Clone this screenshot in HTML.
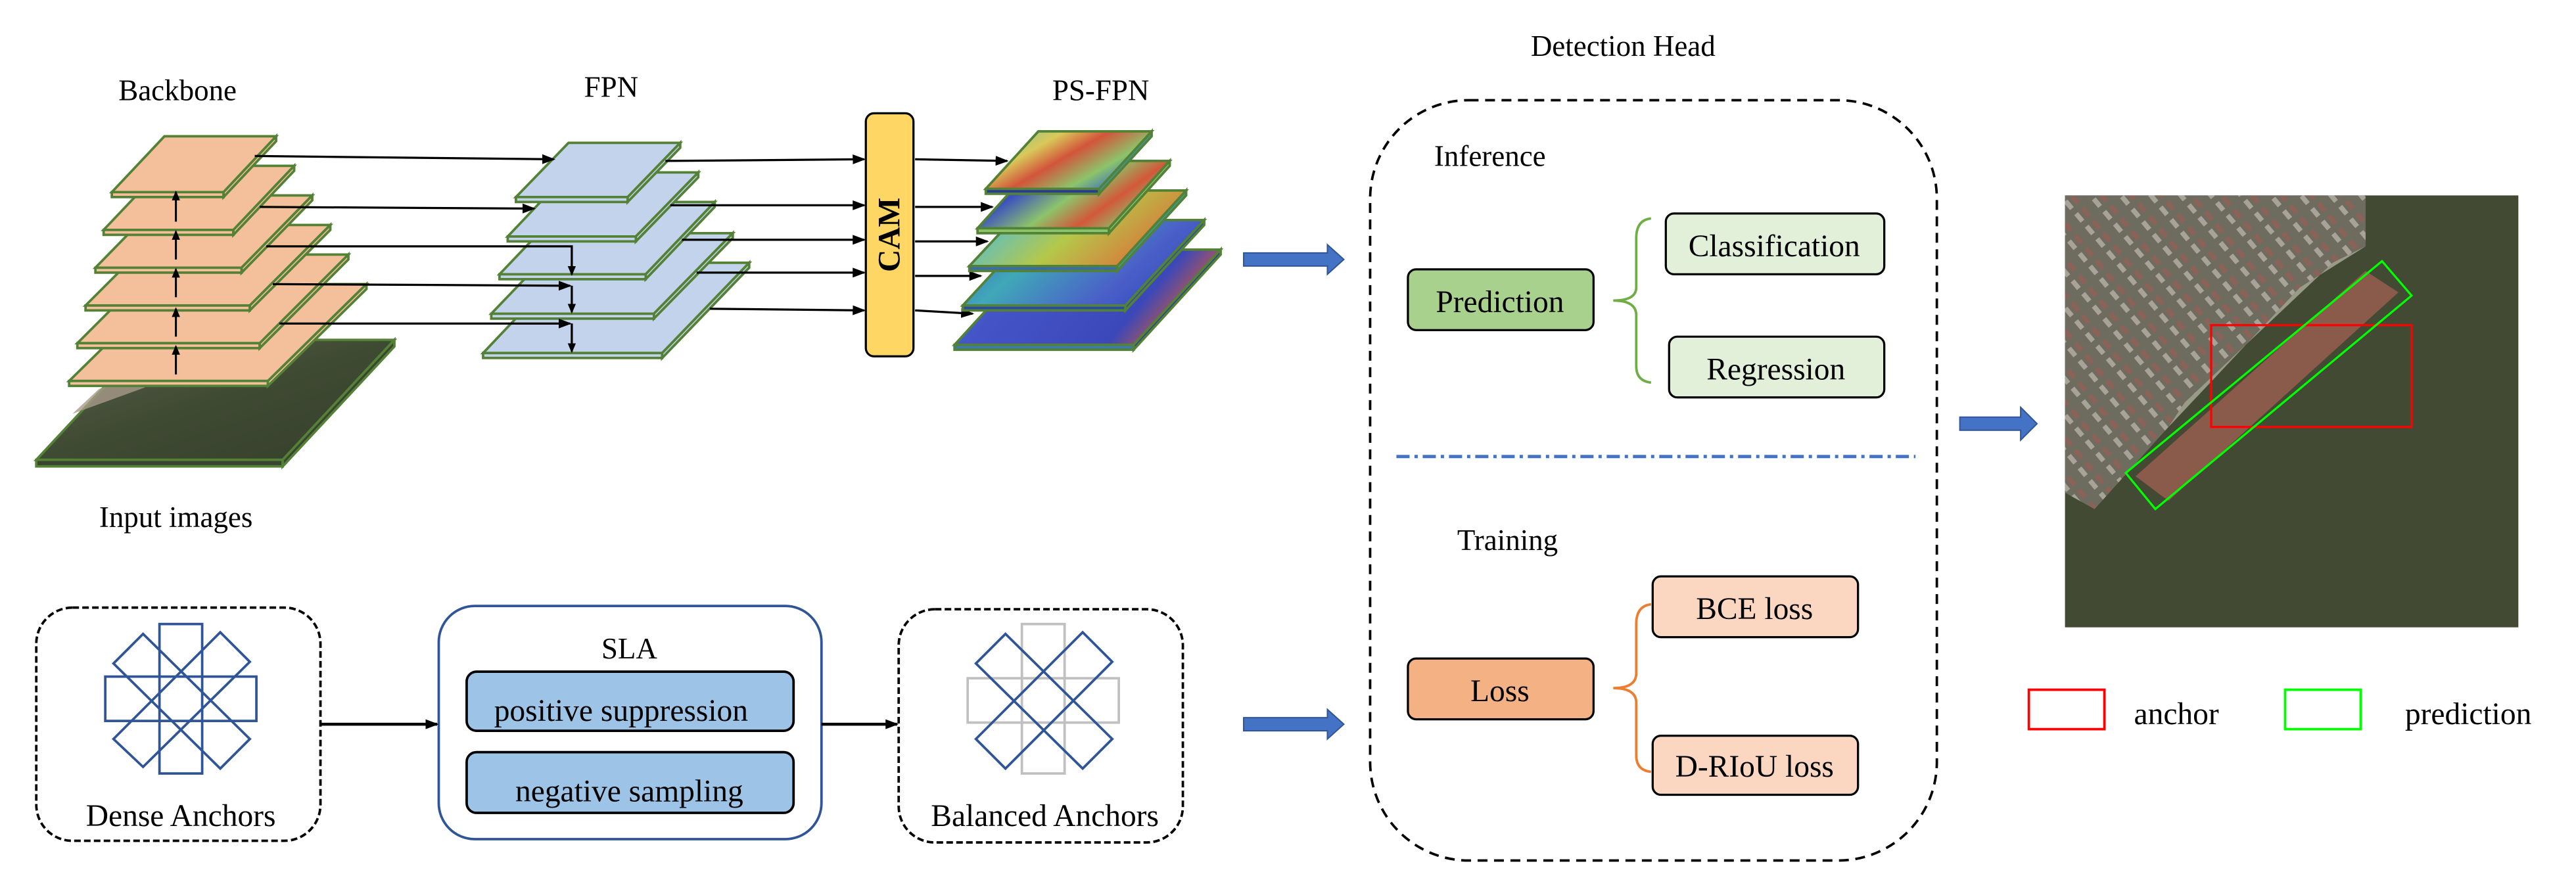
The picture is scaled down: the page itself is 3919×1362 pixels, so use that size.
<!DOCTYPE html>
<html><head><meta charset="utf-8"><style>html,body{margin:0;padding:0;background:#fff}svg{display:block}text{font-family:"Liberation Serif",serif}</style></head><body>
<svg xmlns="http://www.w3.org/2000/svg" width="3919" height="1362" viewBox="0 0 1568 545" style="font-family:'Liberation Serif',serif">
<defs>
<marker id="ah" markerWidth="8" markerHeight="8" refX="7" refY="4" orient="auto" markerUnits="userSpaceOnUse"><path d="M0,1 L8,4 L0,7 z" fill="#000"/></marker>
<marker id="ahs" markerWidth="6" markerHeight="6" refX="5" refY="3" orient="auto" markerUnits="userSpaceOnUse"><path d="M0,0.5 L6,3 L0,5.5 z" fill="#000"/></marker>
<linearGradient id="h0" x1="0" y1="0" x2="1" y2="0.6"><stop offset="0" stop-color="#6fc4a8"/><stop offset="0.35" stop-color="#d9c85a"/><stop offset="0.55" stop-color="#d2553a"/><stop offset="0.8" stop-color="#8cc46a"/><stop offset="1" stop-color="#3a6fc8"/></linearGradient>
<linearGradient id="h1" x1="0" y1="0" x2="1" y2="0.5"><stop offset="0" stop-color="#9ad8c8"/><stop offset="0.35" stop-color="#3a4fc0"/><stop offset="0.6" stop-color="#8cc46a"/><stop offset="0.8" stop-color="#d2583a"/><stop offset="1" stop-color="#8cc46a"/></linearGradient>
<linearGradient id="h2" x1="0" y1="0" x2="1" y2="0.4"><stop offset="0" stop-color="#3a4fc0"/><stop offset="0.3" stop-color="#6cc0b0"/><stop offset="0.6" stop-color="#b4c84a"/><stop offset="1" stop-color="#d87a3a"/></linearGradient>
<linearGradient id="h3" x1="0" y1="0" x2="1" y2="0.4"><stop offset="0" stop-color="#4050c8"/><stop offset="0.4" stop-color="#40a8b8"/><stop offset="0.8" stop-color="#4a60c8"/><stop offset="1" stop-color="#3a4fc0"/></linearGradient>
<linearGradient id="h4" x1="0" y1="0" x2="1" y2="0.3"><stop offset="0" stop-color="#40b0a8"/><stop offset="0.3" stop-color="#4455c8"/><stop offset="0.8" stop-color="#3c48b8"/><stop offset="1" stop-color="#d05a3a"/></linearGradient>
<linearGradient id="sea" x1="0" y1="0" x2="1" y2="1"><stop offset="0" stop-color="#5b5f4c"/><stop offset="0.5" stop-color="#3f4a33"/><stop offset="1" stop-color="#353f2b"/></linearGradient>
<pattern id="cont" width="14" height="10" patternUnits="userSpaceOnUse" patternTransform="rotate(-40)"><rect width="14" height="10" fill="#6e6c5e"/><rect x="1" y="2" width="3" height="6" fill="#a8a298"/><rect x="6" y="2" width="3" height="6" fill="#8a6258"/></pattern>
</defs>

<g font-size="18" fill="#000" text-anchor="middle">
<text x="108" y="61">Backbone</text>
<text x="372" y="59">FPN</text>
<text x="670" y="61">PS-FPN</text>
<text x="988" y="34">Detection Head</text>
<text x="107" y="321">Input images</text>
</g>

<g stroke="#538135" stroke-width="1.5">
<polygon points="90,207 240,207 172,280 22,280" fill="url(#sea)"/>
<polygon points="22,280 172,280 172,284 22,284" fill="#3a4430"/>
<polygon points="172,280 240,207 240,211 172,284" fill="#3a4430"/>
</g>
<polygon points="60,237 96,222 88,236 44,252" fill="#a89a8a" opacity="0.8"/>

<g stroke="#538135" stroke-width="1.5" fill="#f4c09b">
<polygon points="102,173 223,173 163,232 42,232"/><polygon points="42,232 163,232 163,235 42,235"/><polygon points="163,232 223,173 223,176 163,235"/>
<polygon points="101,155 212,155 158,209 47,209"/><polygon points="47,209 158,209 158,212 47,212"/><polygon points="158,209 212,155 212,158 158,212"/>
<polygon points="101,137 201,137 152,186 52,186"/><polygon points="52,186 152,186 152,189 52,189"/><polygon points="152,186 201,137 201,140 152,189"/>
<polygon points="101,119 190,119 147,163 58,163"/><polygon points="58,163 147,163 147,166 58,166"/><polygon points="147,163 190,119 190,122 147,166"/>
<polygon points="100,101 179,101 142,140 63,140"/><polygon points="63,140 142,140 142,143 63,143"/><polygon points="142,140 179,101 179,104 142,143"/>
<polygon points="100,83 168,83 136,117 68,117"/><polygon points="68,117 136,117 136,120 68,120"/><polygon points="136,117 168,83 168,86 136,120"/>
</g>
<g stroke="#000" stroke-width="1.2" marker-end="url(#ahs)">
<line x1="107" y1="228" x2="107" y2="211"/>
<line x1="107" y1="205" x2="107" y2="188"/>
<line x1="107" y1="181" x2="107" y2="164"/>
<line x1="107" y1="158" x2="107" y2="141"/>
<line x1="107" y1="135" x2="107" y2="117"/>
</g>

<g stroke="#538135" stroke-width="1.5" fill="#c3d3ec">
<polygon points="346,160 456,160 403,215 294,215"/><polygon points="294,215 403,215 403,218 294,218"/><polygon points="403,215 456,160 456,163 403,218"/>
<polygon points="346,142 446,142 398,191 299,191"/><polygon points="299,191 398,191 398,194 299,194"/><polygon points="398,191 446,142 446,145 398,194"/>
<polygon points="346,123 435,123 393,167 304,167"/><polygon points="304,167 393,167 393,170 304,170"/><polygon points="393,167 435,123 435,126 393,170"/>
<polygon points="346,105 425,105 387,144 309,144"/><polygon points="309,144 387,144 387,147 309,147"/><polygon points="387,144 425,105 425,108 387,147"/>
<polygon points="346,87 414,87 382,120 314,120"/><polygon points="314,120 382,120 382,123 314,123"/><polygon points="382,120 414,87 414,90 382,123"/>
</g>

<g stroke="#000" stroke-width="1.3" fill="none">
<line x1="155" y1="95" x2="337" y2="97" marker-end="url(#ah)"/>
<line x1="158" y1="126" x2="325" y2="127" marker-end="url(#ah)"/>
<polyline points="162,150 348,150 348,167" marker-end="url(#ahs)"/>
<line x1="166" y1="173" x2="347" y2="174" marker-end="url(#ah)"/>
<line x1="170" y1="197" x2="347" y2="197" marker-end="url(#ah)"/>
<line x1="348" y1="174" x2="348" y2="190" marker-end="url(#ahs)"/>
<line x1="348" y1="197" x2="348" y2="214" marker-end="url(#ahs)"/>
</g>

<g stroke="#000" stroke-width="1.3" marker-end="url(#ah)">
<line x1="405" y1="98" x2="526" y2="97"/>
<line x1="408" y1="125" x2="526" y2="125"/>
<line x1="415" y1="146" x2="526" y2="146"/>
<line x1="424" y1="166" x2="526" y2="166"/>
<line x1="432" y1="188" x2="526" y2="189"/>
</g>

<rect x="527" y="69" width="29" height="148" rx="5" fill="#fdd663" stroke="#000" stroke-width="1.3"/>
<text x="541.5" y="143" font-size="19" font-weight="bold" text-anchor="middle" transform="rotate(-90 541.5 143)" dy="6">CAM</text>

<g stroke="#000" stroke-width="1.3" marker-end="url(#ah)">
<line x1="557" y1="97" x2="613" y2="98"/>
<line x1="557" y1="126" x2="604" y2="126"/>
<line x1="557" y1="147" x2="601" y2="147"/>
<line x1="557" y1="168" x2="597" y2="168"/>
<line x1="557" y1="189" x2="592" y2="191"/>
</g>

<g stroke="#538135" stroke-width="1.5">
<polygon points="634,152 743,152 690,210 581,210" fill="url(#h4)"/><polygon points="581,210 690,210 690,213 581,213" fill="#3c7ab0"/><polygon points="690,210 743,152 743,155 690,213" fill="#2a3a9a"/>
<polygon points="634,134 733,134 685,186 586,186" fill="url(#h3)"/><polygon points="586,186 685,186 685,189 586,189" fill="#2a4aa8"/><polygon points="685,186 733,134 733,137 685,189" fill="#2a4aa8"/>
<polygon points="633,116 722,116 680,162 590,162" fill="url(#h2)"/><polygon points="590,162 680,162 680,165 590,165" fill="#3a6ab0"/><polygon points="680,162 722,116 722,119 680,165" fill="#3aa0a8"/>
<polygon points="632,98 712,98 675,139 595,139" fill="url(#h1)"/><polygon points="595,139 675,139 675,142 595,142" fill="#8cc46a"/><polygon points="675,139 712,98 712,101 675,142" fill="#8cc46a"/>
<polygon points="632,80 701,80 669,115 600,115" fill="url(#h0)"/><polygon points="600,115 669,115 669,118 600,118" fill="#2a3a9a"/><polygon points="669,115 701,80 701,83 669,118" fill="#3a9ab0"/>
</g>

<g fill="#4472c4" stroke="#2f5597" stroke-width="0.8">
<polygon points="757,154 808,154 808,149 818,158 808,167 808,162 757,162"/>
<polygon points="757,437 808,437 808,432 818,441 808,450 808,445 757,445"/>
<polygon points="1193,254 1230,254 1230,248 1240,258 1230,268 1230,262 1193,262"/>
</g>

<rect x="834" y="61" width="345" height="463" rx="60" fill="none" stroke="#000" stroke-width="1.5" stroke-dasharray="6,4"/>
<text x="873" y="101" font-size="18">Inference</text>
<text x="887" y="335" font-size="18">Training</text>
<line x1="850" y1="278" x2="1166" y2="278" stroke="#4472c4" stroke-width="2" stroke-dasharray="8,3,2,3"/>
<g stroke="#000" stroke-width="1.3">
<rect x="857" y="164" width="113" height="37" rx="5" fill="#a9d18e"/>
<rect x="1014" y="130" width="133" height="37" rx="5" fill="#e2efd9"/>
<rect x="1016" y="205" width="131" height="37" rx="5" fill="#e2efd9"/>
<rect x="857" y="401" width="113" height="37" rx="5" fill="#f4b183"/>
<rect x="1006" y="351" width="125" height="37" rx="5" fill="#fbd7c1"/>
<rect x="1006" y="448" width="125" height="36" rx="5" fill="#fbd7c1"/>
</g>
<g font-size="19" text-anchor="middle">
<text x="913" y="190">Prediction</text>
<text x="1080" y="156">Classification</text>
<text x="1081" y="231">Regression</text>
<text x="913" y="427">Loss</text>
<text x="1068" y="377">BCE loss</text>
<text x="1068" y="473">D-RIoU loss</text>
</g>
<path d="M1005,133 Q996,134 996,145 L996,175 Q996,183 982,183 Q996,183 996,192 L996,223 Q996,232 1005,233" fill="none" stroke="#70ad47" stroke-width="1.5"/>
<path d="M1005,368 Q996,369 996,380 L996,410 Q996,419 982,419 Q996,419 996,428 L996,460 Q996,469 1005,470" fill="none" stroke="#ed7d31" stroke-width="1.5"/>

<rect x="1257" y="119" width="276" height="263" fill="#434a34"/>
<polygon points="1257,119 1440,119 1440,150 1400,175 1320,260 1275,310 1257,300" fill="url(#cont)"/>
<polygon points="1330,245 1420,160 1440,150 1400,175 1320,260" fill="#9a9a88"/>
<polygon points="1300,290 1440,165 1460,178 1320,305" fill="#8a5a4a"/>
<rect x="1346" y="198" width="122" height="62" fill="none" stroke="#ff0000" stroke-width="1.3"/>
<polygon points="1294,288 1450,159 1468,180 1312,310" fill="none" stroke="#00ff00" stroke-width="1.3"/>

<rect x="1235" y="420" width="46" height="24" fill="none" stroke="#ff0000" stroke-width="1.5"/>
<text x="1299" y="441" font-size="19">anchor</text>
<rect x="1391" y="420" width="46" height="24" fill="none" stroke="#00ff00" stroke-width="1.5"/>
<text x="1464" y="441" font-size="19">prediction</text>

<rect x="22" y="370" width="173" height="142" rx="22" fill="none" stroke="#000" stroke-width="1.5" stroke-dasharray="4,2"/>
<rect x="547" y="371" width="173" height="142" rx="22" fill="none" stroke="#000" stroke-width="1.5" stroke-dasharray="4,2"/>
<rect x="267" y="369" width="233" height="142" rx="22" fill="none" stroke="#2f5597" stroke-width="1.5"/>
<text x="383" y="401" font-size="18" text-anchor="middle">SLA</text>
<rect x="284" y="409" width="199" height="36" rx="6" fill="#9dc3e6" stroke="#000" stroke-width="1.5"/>
<rect x="284" y="458" width="199" height="37" rx="6" fill="#9dc3e6" stroke="#000" stroke-width="1.5"/>
<text x="378" y="439" font-size="19" text-anchor="middle">positive suppression</text>
<text x="383" y="488" font-size="19" text-anchor="middle">negative sampling</text>
<text x="110" y="503" font-size="19" text-anchor="middle">Dense Anchors</text>
<text x="636" y="503" font-size="19" text-anchor="middle">Balanced Anchors</text>
<g stroke="#000" stroke-width="1.8">
<line x1="195" y1="441" x2="266" y2="441" marker-end="url(#ah)"/>
<line x1="500" y1="441" x2="546" y2="441" marker-end="url(#ah)"/>
</g>
<g fill="none" stroke="#2f5597" stroke-width="1.5">
<rect x="97" y="380" width="26" height="91"/>
<rect x="64" y="412" width="92" height="27"/>
<polygon points="87,386 69,404 134,468 152,450"/>
<polygon points="134,385 152,403 87,467 69,450"/>
</g>
<g fill="none" stroke="#c0c0c0" stroke-width="1.5">
<rect x="622" y="380" width="26" height="91"/>
<rect x="589" y="413" width="92" height="27"/>
</g>
<g fill="none" stroke="#2f5597" stroke-width="1.5">
<polygon points="612,386 594,404 659,468 677,450"/>
<polygon points="659,385 677,403 612,468 594,450"/>
</g>
</svg>
</body></html>
